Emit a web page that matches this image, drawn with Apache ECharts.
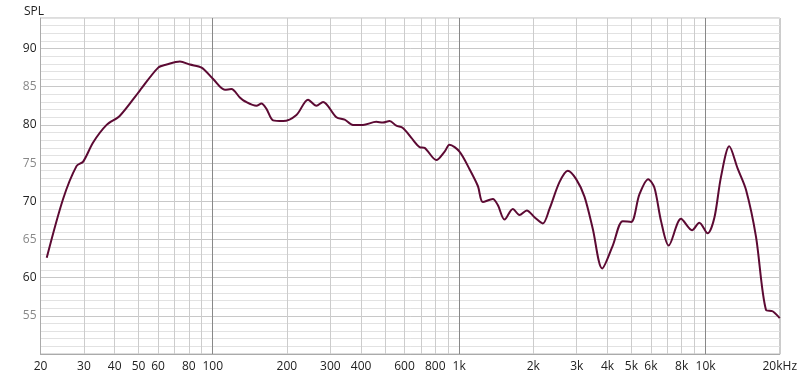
<!DOCTYPE html>
<html>
<head>
<meta charset="utf-8">
<script src="https://cdn.jsdelivr.net/npm/echarts@6/dist/echarts.min.js"></script>
<style>html,body{margin:0;padding:0;background:#fff;}#c{width:800px;height:379px;}</style>
</head>
<body>
<div id="c"></div>
<script>
const freqs = [21.2,24.7,28.0,29.8,32.7,37.1,42.0,50.6,60.1,65.0,73.6,80.8,90.1,100.4,112,119,128.8,134.9,150.4,157.6,165.2,175.7,192.9,218.6,243.6,263.5,280.3,317.5,343.1,370.7,407,461,490,522,556,591,640,691,724,808,873,914,1003,1102,1191,1248,1370,1435,1528,1651,1757,1881,2022,2185,2326,2553,2759,2984,3225,3485,3805,4201,4612,4988,5388,5850,6197,6596,7083,7952,8811,9433,10190,10850,11550,12480,13490,14590,16010,17580,18700,20000];
const spl = [62.6,70.3,74.6,75.2,77.7,80.0,81.2,84.5,87.5,87.9,88.3,87.9,87.5,86.0,84.6,84.7,83.6,83.1,82.5,82.8,82.1,80.6,80.5,81.3,83.3,82.5,83.0,81.0,80.7,80.0,80.0,80.4,80.3,80.5,79.9,79.6,78.3,77.1,77.0,75.4,76.5,77.4,76.5,74.2,72.0,69.9,70.3,69.5,67.6,69.0,68.2,68.8,67.9,67.1,69.0,72.5,74.0,72.9,70.6,66.4,61.2,64.2,67.4,67.3,70.9,72.9,71.8,67.4,64.2,67.7,66.2,67.2,65.8,67.8,73.2,77.2,74.3,71.5,65.4,55.8,55.6,54.7];
const gridFreqs = [20,30,40,50,60,70,80,90,200,300,400,500,600,700,800,900,2000,3000,4000,5000,6000,7000,8000,9000,20000];
const decadeFreqs = [100,1000,10000];
const labelFreqs = [20,30,40,50,60,80,100,200,300,400,600,800,1000,2000,3000,4000,5000,6000,8000,10000,20000];
const labelTexts = ['20','30','40','50','60','80','100','200','300','400','600','800','1k','2k','3k','4k','5k','6k','8k','10k','20kHz'];
const yMin = 50, yMax = 94;

const lg = v => Math.log10(v);
const labelMap = {};
labelFreqs.forEach((f,i)=>{ labelMap[lg(f).toFixed(6)] = labelTexts[i]; });
const font = '"Open Sans", "Noto Sans", sans-serif';

const chart = echarts.init(document.getElementById('c'), null, {renderer:'canvas'});
chart.setOption({
  animation:false,
  title:{text:'SPL', left:19, top:1, textStyle:{fontSize:12, fontWeight:'normal', color:'#222', fontFamily:font}},
  grid:{left:40.5, right:19.5, top:18, bottom:25, show:true, borderColor:'#bbb', borderWidth:1},
  xAxis:[{
    type:'value', min:lg(20), max:lg(20000),
    axisLine:{show:true, lineStyle:{color:'#aaa'}},
    axisTick:{show:false, customValues: gridFreqs.map(lg)},
    axisLabel:{show:false},
    splitLine:{show:true, lineStyle:{color:'#ccc', width:1}}
  },{
    type:'value', min:lg(20), max:lg(20000), position:'bottom',
    axisLine:{show:false},
    axisTick:{show:false, customValues: decadeFreqs.map(lg)},
    axisLabel:{show:false},
    splitLine:{show:true, lineStyle:{color:'#888', width:1}}
  },{
    type:'value', min:lg(20), max:lg(20000), position:'bottom',
    axisLine:{show:false},
    axisTick:{show:false, customValues: labelFreqs.map(lg)},
    axisLabel:{show:true, customValues: labelFreqs.map(lg), margin:7, color:'#222', fontSize:12, fontFamily:font,
      formatter: v => labelMap[v.toFixed(6)] || ''},
    splitLine:{show:false}
  }],
  yAxis:{
    type:'value', min:yMin, max:yMax, interval:1,
    axisLine:{show:true, lineStyle:{color:'#aaa'}},
    axisTick:{show:false},
    axisLabel:{margin:4, fontSize:12, fontFamily:font,
      formatter: v => (v%5===0 && v>yMin && v<yMax) ? String(v) : '',
      color: v => (v%10===0 ? '#222' : '#888')},
    splitLine:{show:true, lineStyle:{color:['#c8c8c8','#e2e2e2','#e2e2e2','#e2e2e2','#e2e2e2'], width:1}}
  },
  series:[{
    type:'line', xAxisIndex:0, showSymbol:false, smooth:0.3,
    lineStyle:{color:'#5c0a33', width:2},
    data: freqs.map((f,i)=>[lg(f), spl[i]])
  }]
});
</script>
</body>
</html>
